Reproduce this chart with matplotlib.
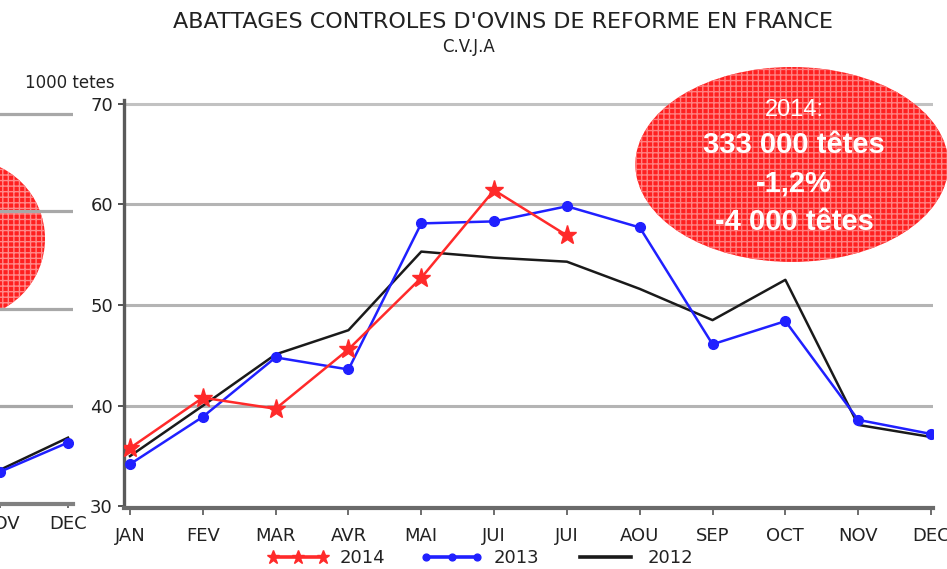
import numpy as np
import matplotlib.pyplot as plt
from matplotlib.patches import Ellipse

# data (1000 tetes)
months = ["JAN", "FEV", "MAR", "AVR", "MAI", "JUI", "JUI", "AOU", "SEP", "OCT", "NOV", "DEC"]
v2014 = [35.8, 40.8, 39.7, 45.6, 52.7, 61.4, 56.9]
v2013 = [34.2, 38.9, 44.8, 43.6, 58.1, 58.3, 59.8, 57.7, 46.1, 48.4, 38.6, 37.2]
v2012 = [35.0, 40.0, 45.1, 47.5, 55.3, 54.7, 54.3, 51.6, 48.5, 52.5, 38.1, 36.9]
yticks = [30, 40, 50, 60, 70]

# partial chart cut off on the left side of the slide
left_months = ["NOV", "DEC"]
left_2013 = [33.3, 36.3]
left_2012 = [33.5, 36.8]

box_lines = ["2014:", "333 000 têtes", "-1,2%", "-4 000 têtes"]

W, H = 947, 569
fig = plt.figure(figsize=(W / 100, H / 100), dpi=100)
plt.rcParams['font.family'] = ['DejaVu Sans']

RED = '#ff2a2a'
BLUE = '#2020ff'
BLACK = '#1a1a1a'
GRID = '#b4b4b4'
AXC = '#6a6a6a'


def px_box(x0, x1, y_top, y_bot):
    return [x0 / W, 1 - y_bot / H, (x1 - x0) / W, (y_bot - y_top) / H]


# ---- left partial chart
axl = fig.add_axes(px_box(0, 73, 109, 504))
xl = np.arange(10, 10 + len(left_months))
axl.set_xlim(10, 10 + 73 / 68)
axl.set_ylim(30, 70.5)
for v in yticks[1:]:
    axl.axhline(v, color='#a8a8a8', lw=2.3, zorder=1)
axl.add_patch(Ellipse((10 - 36 / 68, 57.2), 162 / 68, 16.4, facecolor='#ff2020',
                      edgecolor='#ff8a8a', hatch='+++', lw=0, clip_on=False, zorder=0.3))
axl.plot(xl, left_2012, color=BLACK, lw=1.8, zorder=3, clip_on=True)
axl.plot(xl, left_2013, color=BLUE, lw=1.8, marker='o', ms=7, zorder=3, clip_on=True)
for s in ['top', 'right', 'left']:
    axl.spines[s].set_visible(False)
axl.spines['bottom'].set_color('#808080')
axl.spines['bottom'].set_linewidth(3)
axl.set_yticks([])
axl.set_xticks(xl)
axl.set_xticklabels(left_months, fontsize=13, color='#222222')
axl.tick_params(axis='x', direction='out', length=3, width=1.2, color='#555555', pad=5)
axl.set_facecolor('none')

# ---- main chart
ax = fig.add_axes(px_box(124, 933, 100.5, 507.5))
x = np.arange(len(months))
ax.set_xlim(-6 / 72.8, 11 + 2 / 72.8)
ax.set_ylim(29.9, 70.3)
for v in yticks[1:]:
    ax.axhline(v, color='#c2c2c2' if v == 70 else GRID, lw=2.2, zorder=1)

ax.plot(x, v2012, color=BLACK, lw=1.8, zorder=3, label='2012')
ax.plot(x, v2013, color=BLUE, lw=1.8, marker='o', ms=7, zorder=4, label='2013')
ax.plot(x[:len(v2014)], v2014, color=RED, lw=1.8, marker='*', ms=14, zorder=5, label='2014')

ax.set_xticks(x)
ax.set_xticklabels(months, fontsize=13, color='#222222')
ax.set_yticks(yticks)
ax.set_yticklabels([str(v) for v in yticks], fontsize=13, color='#222222')
ax.tick_params(axis='x', direction='out', length=5, width=1.2, color='#555555', pad=9)
ax.tick_params(axis='y', direction='out', length=4, width=1.2, color='#333333', pad=4)
for s in ['top', 'right']:
    ax.spines[s].set_visible(False)
ax.spines['left'].set_color('#5a5a5a')
ax.spines['left'].set_linewidth(2.4)
ax.spines['bottom'].set_color(AXC)
ax.spines['bottom'].set_linewidth(3)

# red callout ellipse
ax.add_patch(Ellipse((9.09, 63.95), 313 / 72.8, 19.35, facecolor='#ff2020',
                     edgecolor='#ff8080', hatch='+++', lw=0, clip_on=False, zorder=6))
txt_y = [69.35, 65.9, 62.1, 58.25]
for i, (t, yy) in enumerate(zip(box_lines, txt_y)):
    ax.text(9.12, yy, t, color='white', ha='center', va='center', zorder=7,
            family='Liberation Sans', fontsize=17 if i == 0 else 21,
            fontweight='normal' if i == 0 else 'bold')

# legend
h, l = ax.get_legend_handles_labels()
order = [2, 1, 0]
leg = fig.legend([h[i] for i in order], [l[i] for i in order], loc='center',
                 bbox_to_anchor=(480 / W, 1 - 558 / H), ncol=3, frameon=False,
                 fontsize=13, numpoints=3, handlelength=3.4, handletextpad=0.6,
                 columnspacing=2.0, markerscale=0.7)
for t in leg.get_texts():
    t.set_color('#222222')
for lh in leg.legend_handles:
    lh.set_linewidth(2.6)

fig.text(503 / W, 1 - 22 / H, "ABATTAGES CONTROLES D'OVINS DE REFORME EN FRANCE",
         ha='center', va='center', fontsize=16, color='#222222')
fig.text(468 / W, 1 - 47 / H, "C.V.J.A", ha='center', va='center', fontsize=12,
         color='#222222')
fig.text(115 / W, 1 - 83 / H, "1000 tetes", ha='right', va='center', fontsize=12,
         color='#222222')

fig.savefig('out.png', dpi=100)
